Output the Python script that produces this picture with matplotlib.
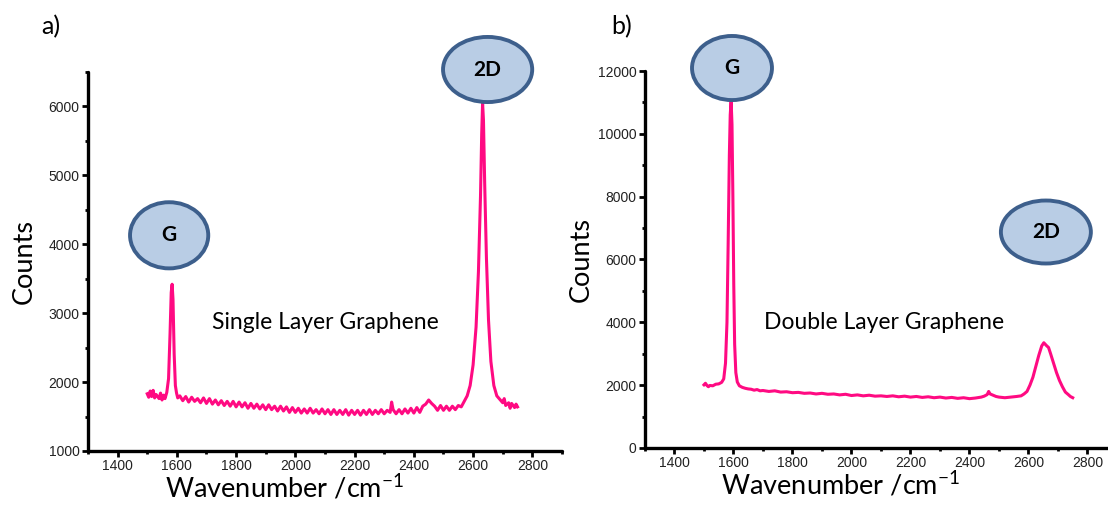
import matplotlib
matplotlib.use('Agg')
import matplotlib.pyplot as plt
from matplotlib.patches import Ellipse
from matplotlib.ticker import MultipleLocator

# spectra (wavenumber /cm-1, counts)

wn_single = [1500, 1505, 1510, 1515, 1520, 1525, 1530, 1540, 1545, 1550,
             1555, 1560, 1566, 1572, 1577, 1581, 1584, 1587, 1591, 1595,
             1599, 1603, 1610, 1620, 1630, 1640, 1650, 1660, 1670, 1680,
             1690, 1700, 1710, 1720, 1730, 1740, 1750, 1760, 1770, 1780,
             1790, 1800, 1810, 1820, 1830, 1840, 1850, 1860, 1870, 1880,
             1890, 1900, 1910, 1920, 1930, 1940, 1950, 1960, 1970, 1980,
             1990, 2000, 2010, 2020, 2030, 2040, 2050, 2060, 2070, 2080,
             2090, 2100, 2110, 2120, 2130, 2140, 2150, 2160, 2170, 2180,
             2190, 2200, 2210, 2220, 2230, 2240, 2250, 2260, 2270, 2280,
             2290, 2300, 2310, 2320, 2325, 2330, 2340, 2350, 2360, 2370,
             2380, 2390, 2400, 2410, 2420, 2430, 2440, 2450, 2460, 2470,
             2480, 2490, 2500, 2510, 2520, 2530, 2540, 2550, 2560, 2570,
             2580, 2590, 2600, 2610, 2618, 2625, 2629, 2632, 2635, 2639,
             2645, 2652, 2660, 2670, 2680, 2690, 2700, 2705, 2710, 2720,
             2725, 2730, 2740, 2745, 2750]
counts_single = [1830, 1780, 1870, 1790, 1880, 1770, 1820, 1760, 1840, 1740,
                 1810, 1760, 1850, 2050, 2700, 3300, 3420, 3200, 2400, 1950,
                 1840, 1770, 1800, 1730, 1790, 1710, 1780, 1720, 1760, 1700,
                 1770, 1690, 1760, 1680, 1740, 1670, 1730, 1660, 1720, 1650,
                 1720, 1640, 1710, 1640, 1700, 1620, 1690, 1620, 1680, 1610,
                 1670, 1600, 1670, 1600, 1650, 1580, 1650, 1580, 1640, 1560,
                 1630, 1560, 1620, 1550, 1610, 1550, 1620, 1550, 1600, 1540,
                 1610, 1540, 1600, 1530, 1600, 1530, 1590, 1530, 1600, 1520,
                 1590, 1530, 1590, 1520, 1590, 1530, 1600, 1530, 1590, 1540,
                 1600, 1540, 1590, 1560, 1710, 1600, 1540, 1600, 1540, 1610,
                 1550, 1620, 1550, 1630, 1560, 1650, 1680, 1740, 1690, 1650,
                 1590, 1660, 1590, 1650, 1590, 1650, 1600, 1660, 1640, 1720,
                 1800, 1950, 2250, 2800, 3600, 4700, 5600, 6050, 5800, 4900,
                 3800, 2900, 2300, 1950, 1800, 1750, 1700, 1760, 1660, 1700,
                 1620, 1690, 1630, 1680, 1640]

wn_double = [1500, 1505, 1510, 1515, 1520, 1530, 1540, 1550, 1560, 1567,
             1573, 1578, 1582, 1586, 1589, 1592, 1595, 1598, 1601, 1604,
             1608, 1613, 1620, 1630, 1640, 1650, 1660, 1670, 1680, 1690,
             1700, 1720, 1740, 1760, 1780, 1800, 1820, 1840, 1860, 1880,
             1900, 1920, 1940, 1960, 1980, 2000, 2020, 2040, 2060, 2080,
             2100, 2120, 2140, 2160, 2180, 2200, 2220, 2240, 2260, 2280,
             2300, 2320, 2340, 2360, 2380, 2400, 2420, 2440, 2450, 2460,
             2465, 2470, 2480, 2490, 2500, 2520, 2540, 2560, 2575, 2585,
             2595, 2605, 2615, 2625, 2635, 2645, 2652, 2657, 2662, 2668,
             2675, 2685, 2695, 2705, 2715, 2725, 2735, 2742, 2750]
counts_double = [2010, 2060, 1990, 1950, 1990, 1980, 2030, 2040, 2090, 2200,
                 2700, 4000, 6500, 9300, 10600, 11050, 10300, 8000, 5200, 3300,
                 2400, 2100, 1980, 1930, 1900, 1880, 1870, 1840, 1860, 1820,
                 1830, 1800, 1820, 1780, 1790, 1760, 1770, 1740, 1750, 1720,
                 1740, 1710, 1720, 1690, 1710, 1670, 1690, 1660, 1680, 1650,
                 1660, 1640, 1660, 1630, 1650, 1620, 1640, 1610, 1630, 1600,
                 1620, 1590, 1610, 1580, 1600, 1570, 1590, 1620, 1650, 1700,
                 1800, 1720, 1680, 1640, 1620, 1600, 1620, 1640, 1660, 1720,
                 1800, 2000, 2250, 2600, 2950, 3250, 3350, 3300, 3250, 3200,
                 3000, 2700, 2400, 2150, 1950, 1780, 1700, 1640, 1600]

panels = ['a)', 'b)']
samples = ['Single Layer Graphene', 'Double Layer Graphene']

line_col = '#FF0A82'
fill_col = '#B9CDE5'
edge_col = '#3D5F8C'
label_font = 'Lato'

fig = plt.figure(figsize=(11.08, 5.16), dpi=100)
ax1 = fig.add_axes([0.0794, 0.126, 0.4278, 0.7345])
ax2 = fig.add_axes([0.5821, 0.1318, 0.426, 0.7306])

ax1.plot(wn_single, counts_single, color=line_col, lw=2.2)
ax2.plot(wn_double, counts_double, color=line_col, lw=2.2)

ax1.set_ylim(1000, 6500)
ax2.set_ylim(0, 12000)

for ax, big, small in [(ax1, 1000, 500), (ax2, 2000, 1000)]:
    ax.set_xlim(1300, 2900)
    ax.xaxis.set_major_locator(MultipleLocator(200))
    ax.xaxis.set_minor_locator(MultipleLocator(100))
    ax.yaxis.set_major_locator(MultipleLocator(big))
    ax.yaxis.set_minor_locator(MultipleLocator(small))
    for s in ['top', 'right']:
        ax.spines[s].set_visible(False)
    for s in ['left', 'bottom']:
        ax.spines[s].set_linewidth(2.4)
        ax.spines[s].set_capstyle('round')
    ax.tick_params(which='major', direction='out', length=4, width=2.0, pad=2,
                   labelsize=10, labelcolor='#222222')
    ax.tick_params(which='minor', direction='out', length=2.5, width=2.0)
    ax.set_xticks([1400, 1600, 1800, 2000, 2200, 2400, 2600, 2800])
    for lab in ax.get_xticklabels() + ax.get_yticklabels():
        lab.set_family('Liberation Sans')
    ax.set_xlabel(r'Wavenumber /cm$^{\mathregular{-1}}$', fontsize=19.5, family=label_font)
    ax.set_ylabel('Counts', fontsize=19.5, family=label_font)
    ax.xaxis.set_label_coords(0.414, -0.058)
    ax.yaxis.set_label_coords(-0.108, 0.5)

# sample names
ax1.text(1719, 2870, samples[0], fontsize=16.5, family=label_font, va='center', ha='left')
ax2.text(1703, 4010, samples[1], fontsize=16.5, family=label_font, va='center', ha='left')

# peak badges: (axes, centre x, centre y, width, height, label)
badges = [(ax1, 1574, 4130, 264, 960, 'G'),
          (ax1, 2649, 6536, 301, 945, '2D'),
          (ax2, 1595, 12095, 271, 2040, 'G'),
          (ax2, 2659, 6875, 305, 2005, '2D')]
for ax, cx, cy, w, h, txt in badges:
    ax.add_patch(Ellipse((cx, cy), w, h, facecolor=fill_col, edgecolor=edge_col,
                         lw=2.8, clip_on=False, zorder=5))
    ax.text(cx, cy, txt, fontsize=15, fontweight='bold', family=label_font,
            ha='center', va='center', zorder=6, clip_on=False)

fig.text(51 / 1108, 1 - 27 / 516, panels[0], fontsize=18, family=label_font, ha='center', va='center')
fig.text(622 / 1108, 1 - 27 / 516, panels[1], fontsize=18, family=label_font, ha='center', va='center')

fig.savefig('out.png', dpi=100)
